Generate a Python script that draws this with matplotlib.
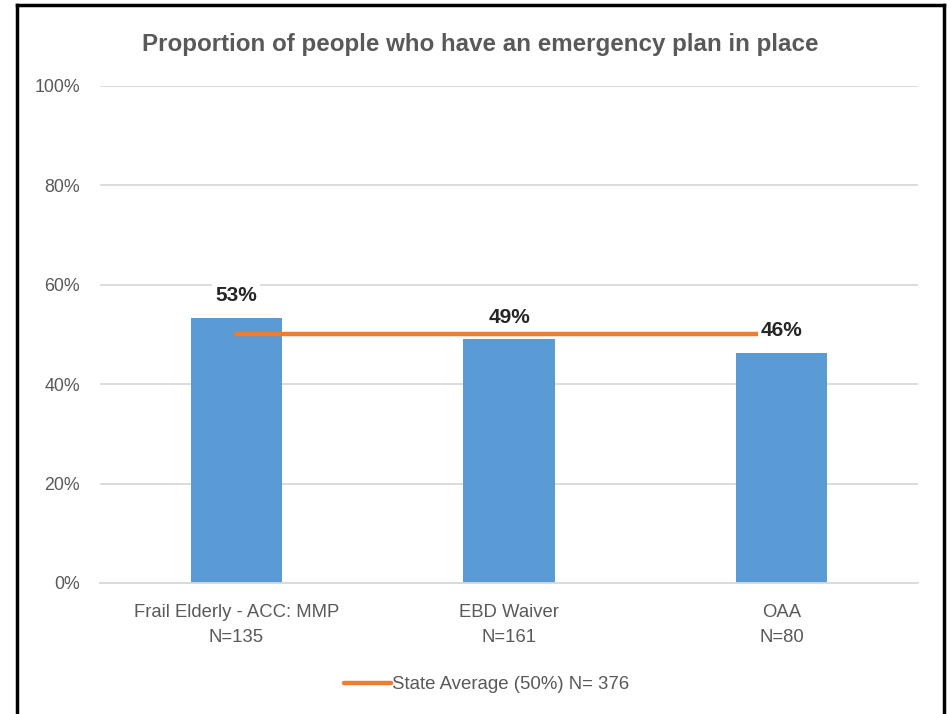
import matplotlib
matplotlib.use("Agg")
import matplotlib.pyplot as plt
from matplotlib.lines import Line2D
import numpy as np

categories = ["Frail Elderly - ACC: MMP\nN=135", "EBD Waiver\nN=161", "OAA\nN=80"]
values = [0.533, 0.49, 0.463]
value_labels = ["53%", "49%", "46%"]
state_avg = [0.50, 0.50, 0.50]
legend_label = "State Average (50%) N= 376"
title = "Proportion of people who have an emergency plan in place"
yticks = [0, 0.2, 0.4, 0.6, 0.8, 1.0]
ytick_labels = ["0%", "20%", "40%", "60%", "80%", "100%"]

plt.rcParams['font.family'] = ['Liberation Sans', 'DejaVu Sans']

fig = plt.figure(figsize=(9.51, 7.14), dpi=100)
ax = fig.add_axes([0.1052, 0.1835, 0.8601, 0.6961])

x = np.arange(len(categories))
ax.bar(x, values, width=0.335, color="#5B9BD5", zorder=2)
ax.plot(x, state_avg, color="#ED7D31", lw=3.2, solid_capstyle="round", zorder=3,
        label=legend_label)

for xi, v, lab in zip(x, values, value_labels):
    ax.annotate(lab, (xi, v), xytext=(0, 16), textcoords="offset points",
                ha="center", va="center", fontsize=15, fontweight="bold",
                color="#262626", zorder=5,
                bbox=dict(boxstyle="square,pad=0.15", fc="white", ec="none"))

ax.set_xlim(-0.5, 2.5)
ax.set_ylim(0, 1.0)
ax.set_yticks(yticks)
ax.set_yticklabels(ytick_labels, fontsize=12.8, color="#595959")
ax.set_xticks(x)
ax.set_xticklabels(categories, fontsize=13.3, color="#595959", linespacing=1.6)
ax.tick_params(axis="both", length=0)
ax.tick_params(axis="y", pad=14.5)
ax.tick_params(axis="x", pad=15)
ax.grid(axis="y", color="#D9D9D9", lw=1.3, zorder=0)
ax.set_axisbelow(True)
for s in ["left", "right", "top"]:
    ax.spines[s].set_visible(False)
ax.spines["bottom"].set_color("#D9D9D9")
ax.spines["bottom"].set_linewidth(1.3)

fig.text(0.5053, 0.938, title, ha="center", va="center", fontsize=17.4,
         fontweight="bold", color="#595959")

leg = fig.legend(loc="center", bbox_to_anchor=(0.512, 0.041), frameon=False,
                 fontsize=13.4, handlelength=2.5, handletextpad=0.1)
for t in leg.get_texts():
    t.set_color("#595959")

# chart frame
fig.add_artist(Line2D([17/951, 17/951], [0, 1 - 5/714], transform=fig.transFigure, color="black", lw=2.5))
fig.add_artist(Line2D([944/951, 944/951], [0, 1 - 5/714], transform=fig.transFigure, color="black", lw=2.5))
fig.add_artist(Line2D([17/951, 944/951], [1 - 5/714, 1 - 5/714], transform=fig.transFigure, color="black", lw=2.5))

fig.savefig("out.png", dpi=100)
